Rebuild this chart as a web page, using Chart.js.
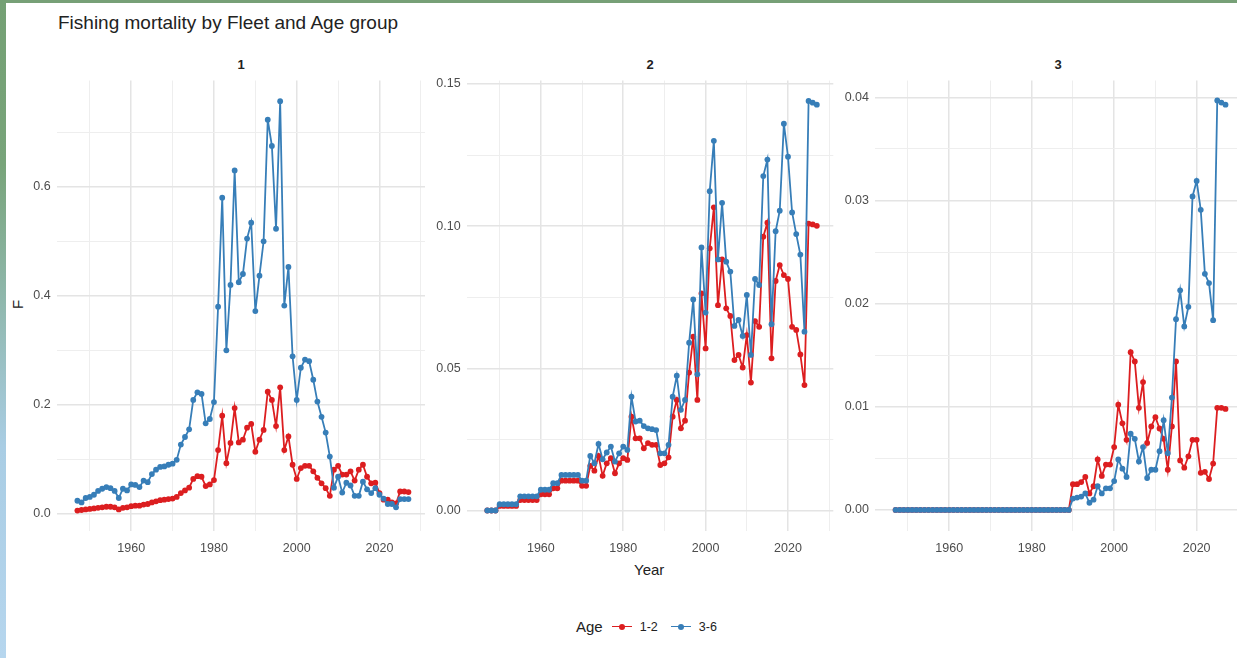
<!DOCTYPE html>
<html lang="en">
<head>
  <meta charset="UTF-8">
  <title>Fishing mortality by Fleet and Age group</title>
  <script src="https://cdn.jsdelivr.net/npm/chart.js"></script>
  <style>
    body {
      margin: 0;
      width: 1237px;
      height: 658px;
      overflow: hidden;
      background: #ffffff;
      font-family: "Liberation Sans", Arial, sans-serif;
      position: relative;
    }
    #topbar {
      position: absolute; left: 0; top: 0; width: 1237px; height: 3px;
      background: #77a077;
    }
    #leftbar {
      position: absolute; left: 0; top: 0; width: 6px; height: 658px;
      background: linear-gradient(#74a074 0%, #78a47a 25%, #a9cde4 68%, #b6d6ee 100%);
    }
    #title {
      position: absolute; left: 58px; top: 12px;
      font-size: 19px; color: #222;
    }
    .strip {
      position: absolute; top: 57px; width: 40px; margin-left: -20px;
      text-align: center; font-size: 13px; font-weight: bold; color: #222;
    }
    #ylab {
      position: absolute; left: 13px; top: 296px; font-size: 15px; color: #222;
      transform: rotate(-90deg);
    }
    #xlab {
      position: absolute; left: 634px; top: 561px; font-size: 15px; color: #222;
    }
    #legend {
      position: absolute; left: 576px; top: 618px; font-size: 15px; color: #222;
      display: flex; align-items: center; white-space: nowrap;
    }
    .key {
      position: relative; display: inline-block; width: 20px; height: 16px; margin: 0 8px 0 9px;
    }
    .key .ln { position: absolute; left: 0; top: 7px; width: 20px; height: 1.8px; }
    .key .pt { position: absolute; left: 7px; top: 5px; width: 6px; height: 6px; border-radius: 3px; }
    .lab { font-size: 12.5px; margin-right: 4px; }
    canvas { position: absolute; top: 60px; }
  </style>
</head>
<body>
  <div id="topbar"></div>
  <div id="leftbar"></div>
  <div id="title">Fishing mortality by Fleet and Age group</div>
  <div class="strip" style="left:241px">1</div>
  <div class="strip" style="left:650px">2</div>
  <div class="strip" style="left:1058px">3</div>
  <div id="ylab">F</div>
  <div id="xlab">Year</div>
  <div id="legend">
    <span>Age</span>
    <span class="key"><span class="ln" style="background:#dc1e20"></span><span class="pt" style="background:#dc1e20"></span></span>
    <span class="lab">1-2</span>
    <span class="key"><span class="ln" style="background:#377eb8"></span><span class="pt" style="background:#377eb8"></span></span>
    <span class="lab">3-6</span>
  </div>

  <canvas id="fleet1" width="440" height="500" style="left:0px"></canvas>
  <canvas id="fleet2" width="425" height="500" style="left:425px"></canvas>
  <canvas id="fleet3" width="420" height="500" style="left:833px"></canvas>

  <script>
    const years = [1947, 1948, 1949, 1950, 1951, 1952, 1953, 1954, 1955, 1956,
      1957, 1958, 1959, 1960, 1961, 1962, 1963, 1964, 1965, 1966,
      1967, 1968, 1969, 1970, 1971, 1972, 1973, 1974, 1975, 1976,
      1977, 1978, 1979, 1980, 1981, 1982, 1983, 1984, 1985, 1986,
      1987, 1988, 1989, 1990, 1991, 1992, 1993, 1994, 1995, 1996,
      1997, 1998, 1999, 2000, 2001, 2002, 2003, 2004, 2005, 2006,
      2007, 2008, 2009, 2010, 2011, 2012, 2013, 2014, 2015, 2016,
      2017, 2018, 2019, 2020, 2021, 2022, 2023, 2024, 2025, 2026, 2027];

    // Fleet 1
    const fleet1Age12 = [0.006, 0.007, 0.008, 0.009, 0.010, 0.011, 0.012, 0.013, 0.013, 0.012,
      0.008, 0.011, 0.012, 0.014, 0.015, 0.015, 0.017, 0.018, 0.021, 0.023,
      0.025, 0.026, 0.027, 0.028, 0.031, 0.038, 0.043, 0.048, 0.064, 0.069,
      0.068, 0.051, 0.054, 0.062, 0.117, 0.180, 0.093, 0.130, 0.194, 0.131,
      0.136, 0.158, 0.165, 0.114, 0.136, 0.154, 0.224, 0.209, 0.161, 0.232,
      0.117, 0.142, 0.090, 0.064, 0.084, 0.088, 0.088, 0.078, 0.066, 0.056,
      0.047, 0.033, 0.081, 0.088, 0.072, 0.072, 0.078, 0.061, 0.081, 0.090,
      0.068, 0.056, 0.057, 0.038, 0.026, 0.026, 0.021, 0.019, 0.041, 0.041, 0.040];
    const fleet1Age36 = [0.024, 0.021, 0.029, 0.031, 0.035, 0.042, 0.046, 0.049, 0.047, 0.042,
      0.029, 0.046, 0.043, 0.054, 0.053, 0.049, 0.061, 0.058, 0.073, 0.081,
      0.086, 0.087, 0.090, 0.092, 0.099, 0.127, 0.141, 0.155, 0.209, 0.223,
      0.220, 0.166, 0.174, 0.205, 0.380, 0.580, 0.300, 0.420, 0.630, 0.425,
      0.440, 0.505, 0.534, 0.372, 0.437, 0.500, 0.723, 0.675, 0.523, 0.757,
      0.382, 0.453, 0.289, 0.209, 0.268, 0.283, 0.280, 0.246, 0.206, 0.178,
      0.149, 0.105, 0.048, 0.068, 0.039, 0.057, 0.052, 0.033, 0.033, 0.059,
      0.045, 0.038, 0.047, 0.035, 0.028, 0.018, 0.018, 0.012, 0.027, 0.027, 0.027];

    // Fleet 2
    const fleet2Age12 = [0, 0, 0, 0.0016, 0.0016, 0.0016, 0.0016, 0.0016, 0.0037, 0.0037,
      0.0037, 0.0037, 0.0037, 0.0057, 0.0057, 0.0057, 0.0078, 0.0078, 0.0105, 0.0105,
      0.0105, 0.0105, 0.0105, 0.0087, 0.0087, 0.0157, 0.0140, 0.0192, 0.0122, 0.0166,
      0.0184, 0.0131, 0.0166, 0.0184, 0.0178, 0.0330, 0.0254, 0.0254, 0.0219, 0.0237,
      0.0231, 0.0231, 0.0160, 0.0166, 0.0187, 0.0330, 0.0389, 0.0289, 0.0316, 0.0485,
      0.0611, 0.0389, 0.0763, 0.0570, 0.0922, 0.1066, 0.0722, 0.0883, 0.0711, 0.0684,
      0.0529, 0.0547, 0.0503, 0.0617, 0.0450, 0.0666, 0.0646, 0.0963, 0.1012, 0.0535,
      0.0807, 0.0863, 0.0828, 0.0814, 0.0646, 0.0635, 0.0549, 0.0441, 0.1009, 0.1006, 0.1001];
    const fleet2Age36 = [0, 0, 0, 0.0022, 0.0022, 0.0022, 0.0022, 0.0022, 0.0050, 0.0050,
      0.0050, 0.0050, 0.0050, 0.0073, 0.0073, 0.0073, 0.0096, 0.0096, 0.0125, 0.0125,
      0.0125, 0.0125, 0.0125, 0.0105, 0.0105, 0.0192, 0.0166, 0.0234, 0.0180, 0.0204,
      0.0225, 0.0172, 0.0201, 0.0225, 0.0213, 0.0400, 0.0313, 0.0316, 0.0297, 0.0289,
      0.0286, 0.0283, 0.0201, 0.0201, 0.0231, 0.0400, 0.0474, 0.0354, 0.0389, 0.0590,
      0.0742, 0.0479, 0.0925, 0.0696, 0.1123, 0.1300, 0.0883, 0.1082, 0.0875, 0.0840,
      0.0649, 0.0670, 0.0614, 0.0758, 0.0547, 0.0814, 0.0793, 0.1176, 0.1234, 0.0655,
      0.0982, 0.1054, 0.1360, 0.1244, 0.1048, 0.0972, 0.0900, 0.0629, 0.1440, 0.1434, 0.1427];

    // Fleet 3
    const fleet3Age12 = [0, 0, 0, 0, 0, 0, 0, 0, 0, 0,
      0, 0, 0, 0, 0, 0, 0, 0, 0, 0,
      0, 0, 0, 0, 0, 0, 0, 0, 0, 0,
      0, 0, 0, 0, 0, 0, 0, 0, 0, 0,
      0, 0, 0, 0.0025, 0.0025, 0.0027, 0.0032, 0.0016, 0.0023, 0.0049,
      0.0033, 0.0044, 0.0044, 0.0061, 0.0102, 0.0084, 0.0068, 0.0153, 0.0144, 0.0099,
      0.0124, 0.0065, 0.0081, 0.0090, 0.0079, 0.0069, 0.0039, 0.0081, 0.0144, 0.0048,
      0.0041, 0.0052, 0.0068, 0.0068, 0.0036, 0.0037, 0.0030, 0.0045, 0.0099, 0.0099, 0.0098];
    const fleet3Age36 = [0, 0, 0, 0, 0, 0, 0, 0, 0, 0,
      0, 0, 0, 0, 0, 0, 0, 0, 0, 0,
      0, 0, 0, 0, 0, 0, 0, 0, 0, 0,
      0, 0, 0, 0, 0, 0, 0, 0, 0, 0,
      0, 0, 0, 0.0011, 0.0012, 0.0013, 0.0016, 0.0007, 0.0010, 0.0023,
      0.0016, 0.0021, 0.0021, 0.0028, 0.0049, 0.0040, 0.0032, 0.0074, 0.0069, 0.0047,
      0.0061, 0.0031, 0.0039, 0.0039, 0.0057, 0.0087, 0.0055, 0.0109, 0.0185, 0.0213,
      0.0178, 0.0197, 0.0304, 0.0319, 0.0291, 0.0229, 0.0220, 0.0184, 0.0397, 0.0395, 0.0393];

    // axis ticks (empty label = minor grid line)
    const xTicks = [1950, 1960, 1970, 1980, 1990, 2000, 2010, 2020, 2030];
    const xTickLabels = ['', '1960', '', '1980', '', '2000', '', '2020', ''];

    const y1Ticks = [0, 0.1, 0.2, 0.3, 0.4, 0.5, 0.6, 0.7];
    const y1Labels = ['0.0', '', '0.2', '', '0.4', '', '0.6', ''];
    const y2Ticks = [0, 0.025, 0.05, 0.075, 0.1, 0.125, 0.15];
    const y2Labels = ['0.00', '', '0.05', '', '0.10', '', '0.15'];
    const y3Ticks = [0, 0.005, 0.01, 0.015, 0.02, 0.025, 0.03, 0.035, 0.04];
    const y3Labels = ['0.00', '', '0.01', '', '0.02', '', '0.03', '', '0.04'];

    const RED = '#dc1e20';
    const BLUE = '#377eb8';
    const tickFont = { family: '"Liberation Sans", Arial, sans-serif', size: 12.5 };

    // order: 3-6 is drawn on top, like ggplot's group order
    function series(label, values, color, order) {
      return {
        label: label,
        data: years.map((x, i) => ({ x: x, y: values[i] })),
        borderColor: color,
        backgroundColor: color,
        borderWidth: 1.8,
        pointRadius: 2.9,
        pointBorderWidth: 0,
        tension: 0,
        order: order
      };
    }

    function gridStyle(labels) {
      return {
        color: ctx => labels[ctx.index] ? '#e4e4e4' : '#eeeeee',
        lineWidth: ctx => labels[ctx.index] ? 1.5 : 1,
        drawTicks: false
      };
    }

    function drawPanel(id, age12, age36, yTicks, yLabels, yMin, yMax, yWidth, padRight) {
      new Chart(document.getElementById(id), {
        type: 'line',
        data: {
          datasets: [series('1-2', age12, RED, 2), series('3-6', age36, BLUE, 1)]
        },
        options: {
          responsive: false,
          animation: false,
          layout: { padding: { top: 20.5, right: padRight, bottom: 0, left: 0 } },
          plugins: { legend: { display: false }, tooltip: { enabled: false } },
          scales: {
            x: {
              type: 'linear',
              min: 1942,
              max: 2031,
              afterBuildTicks: s => { s.ticks = xTicks.map(v => ({ value: v })); },
              afterFit: s => { s.height = 29; },
              grid: gridStyle(xTickLabels),
              border: { display: false },
              ticks: {
                autoSkip: false, maxRotation: 0, padding: 10,
                color: '#4d4d4d', font: tickFont,
                callback: (v, i) => xTickLabels[i]
              }
            },
            y: {
              min: yMin,
              max: yMax,
              afterBuildTicks: s => { s.ticks = yTicks.map(v => ({ value: v })); },
              afterFit: s => { s.width = yWidth; },
              grid: gridStyle(yLabels),
              border: { display: false },
              ticks: {
                autoSkip: false, padding: 6,
                color: '#4d4d4d', font: tickFont,
                callback: (v, i) => yLabels[i]
              }
            }
          }
        }
      });
    }

    drawPanel('fleet1', fleet1Age12, fleet1Age36, y1Ticks, y1Labels, -0.0315, 0.795, 56.7, 15);
    drawPanel('fleet2', fleet2Age12, fleet2Age36, y2Ticks, y2Labels, -0.0072, 0.1512, 41.7, 16.7);
    drawPanel('fleet3', fleet3Age12, fleet3Age36, y3Ticks, y3Labels, -0.00204, 0.04164, 42, 11);
  </script>
</body>
</html>
